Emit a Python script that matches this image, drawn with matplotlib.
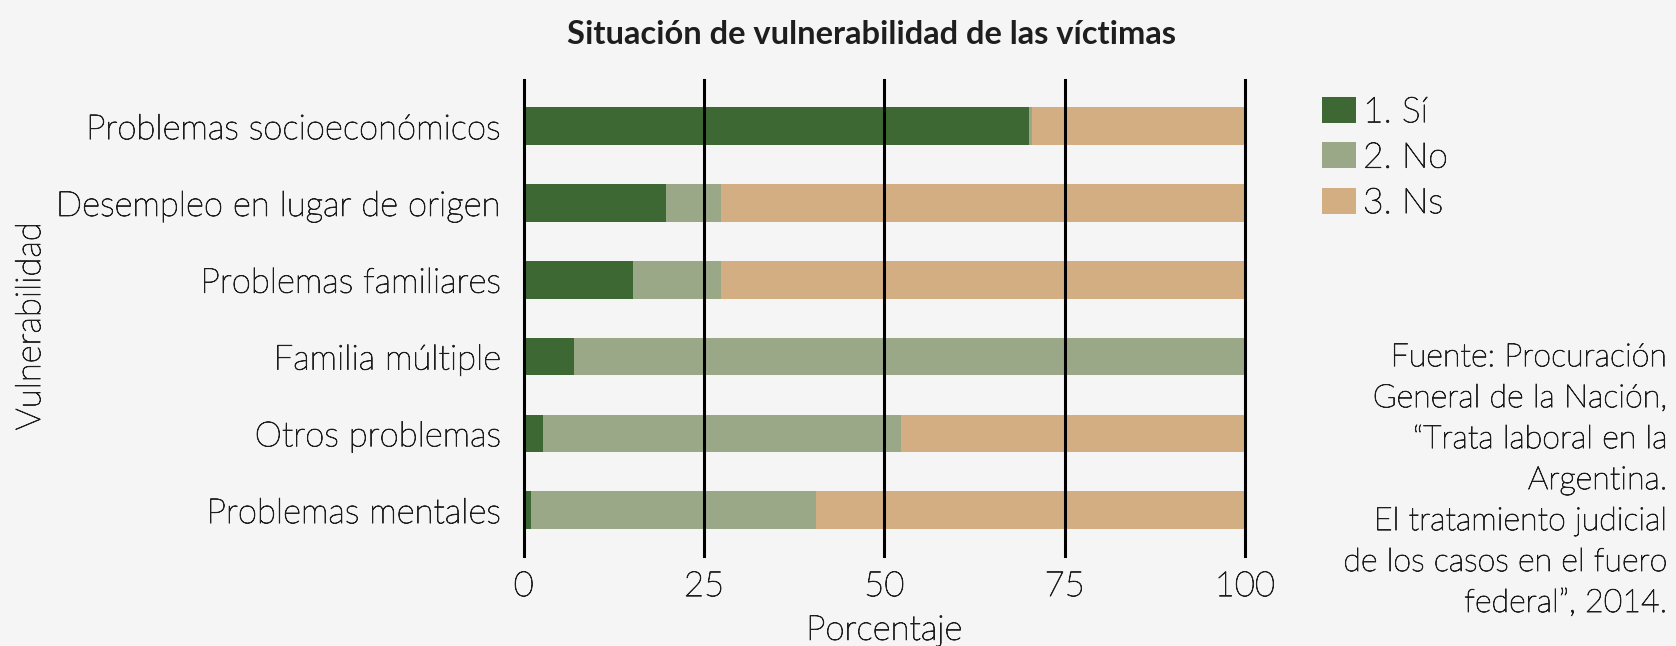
import matplotlib.pyplot as plt
import matplotlib.patheffects as pe
from matplotlib.patches import Patch

# Data
categorias = ['Problemas socioeconómicos', 'Desempleo en lugar de origen',
              'Problemas familiares', 'Familia múltiple',
              'Otros problemas', 'Problemas mentales']
si = [70.0, 19.7, 15.2, 7.0, 2.6, 1.0]
no = [0.5, 7.7, 12.2, 93.0, 49.7, 39.5]
ns = [29.5, 72.6, 72.6, 0.0, 47.7, 59.5]
series = ['1. Sí', '2. No', '3. Ns']
ticks = [0, 25, 50, 75, 100]

colores = ['#3d6833', '#9ba888', '#d4ae83']
fondo = '#f5f5f5'
tinta = '#1e1e1e'

plt.rcParams['font.family'] = ['Lato', 'DejaVu Sans']
plt.rcParams['font.weight'] = 'light'
plt.rcParams['axes.labelweight'] = 'light'
plt.rcParams['text.color'] = tinta

# light font is a bit too thin, thicken it slightly
grueso = [pe.withStroke(linewidth=0.6, foreground=tinta)]

fig = plt.figure(figsize=(16.76, 6.46), dpi=100, facecolor=fondo)
ax = fig.add_axes([0.3125, 0.139, 0.4303, 0.737])
ax.set_facecolor(fondo)

pos = list(range(len(categorias)))
izq = [0.0] * len(categorias)
for valores, color in zip([si, no, ns], colores):
    ax.barh(pos, valores, left=izq, height=0.49, color=color, zorder=2)
    izq = [a + b for a, b in zip(izq, valores)]

#vertical lines on top of bars
for t in ticks:
    ax.axvline(t, color='black', lw=2.2, zorder=3, clip_on=False)

ax.set_xlim(0, 100)
ax.set_ylim(5.6, -0.6)
ax.set_yticks(pos)
ax.set_yticklabels(categorias, fontsize=25, color=tinta)
ax.set_xticks(ticks)
ax.set_xticklabels([str(t) for t in ticks], fontsize=25, color=tinta)
ax.tick_params(length=0)
ax.tick_params(axis='y', pad=16)
ax.tick_params(axis='x', pad=10)
for s in ax.spines.values():
    s.set_visible(False)
for lab in ax.get_xticklabels() + ax.get_yticklabels():
    lab.set_path_effects(grueso)

ax.set_xlabel('Porcentaje', fontsize=25, color=tinta, labelpad=8.5,
              path_effects=grueso)
fig.text(0.018, 0.495, 'Vulnerabilidad', rotation=90, fontsize=25,
         ha='center', va='center', path_effects=grueso)

fig.text(0.520, 0.947, 'Situación de vulnerabilidad de las víctimas',
         fontsize=23.5, fontweight='bold', ha='center', va='center')

handles = [Patch(facecolor=c, label=l) for c, l in zip(colores, series)]
leg = fig.legend(handles=handles, loc='upper left', bbox_to_anchor=(0.7805, 0.873),
                 frameon=False, fontsize=25.5, handlelength=0.95, handleheight=0.75,
                 handletextpad=0.2, labelspacing=0.38, borderaxespad=0)
for txt in leg.get_texts():
    txt.set_path_effects(grueso)

fuente = ('Fuente: Procuración\nGeneral de la Nación,\n“Trata laboral en la\n'
          'Argentina.\nEl tratamiento judicial\nde los casos en el fuero\n'
          'federal”, 2014.')
fig.text(0.995, 0.256, fuente, fontsize=23.2, ha='right', va='center',
         linespacing=1.52, path_effects=grueso)

fig.savefig('out.png', dpi=100, facecolor=fondo)
